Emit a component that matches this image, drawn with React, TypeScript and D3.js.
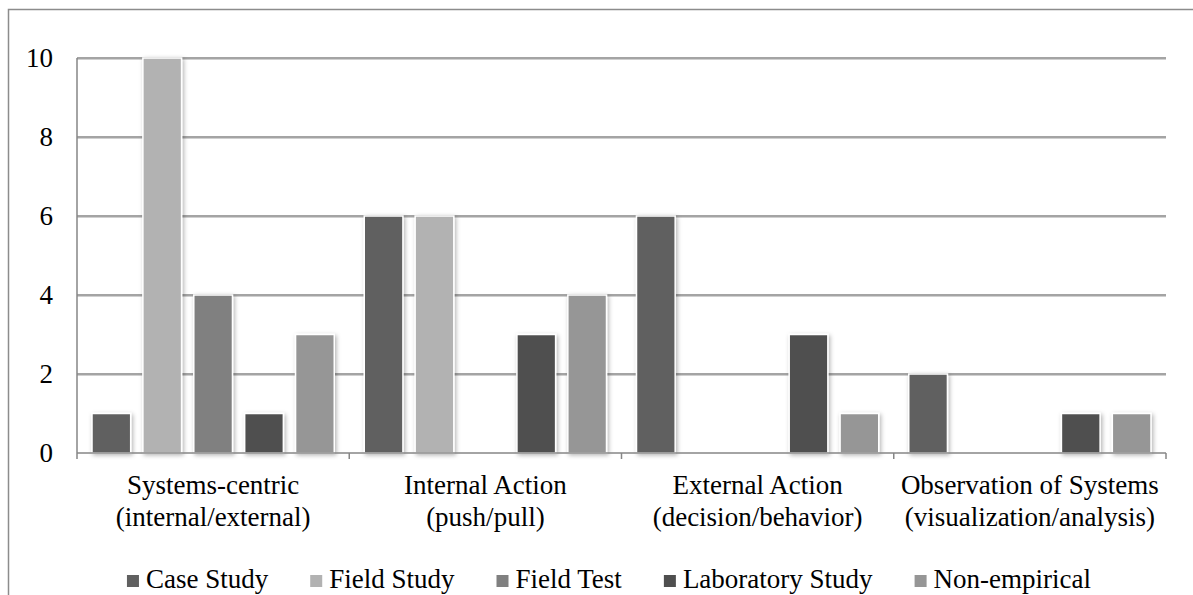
import React, { useEffect, useRef } from 'react';
import * as d3 from 'd3';

const categories = [
  ['Systems-centric', '(internal/external)'],
  ['Internal Action', '(push/pull)'],
  ['External Action', '(decision/behavior)'],
  ['Observation of Systems', '(visualization/analysis)'],
];
const seriesNames = ['Case Study', 'Field Study', 'Field Test', 'Laboratory Study', 'Non-empirical'];
const seriesColors = ['#606060', '#b2b2b2', '#808080', '#4f4f4f', '#969696'];
// one array per series, one value per category
const caseStudy = [1, 6, 6, 2];
const fieldStudy = [10, 6, 0, 0];
const fieldTest = [4, 0, 0, 0];
const laboratoryStudy = [1, 3, 3, 1];
const nonEmpirical = [3, 4, 1, 1];
const yTicks = [0, 2, 4, 6, 8, 10];

const W = 1193;
const H = 595;

const App: React.FC = () => {
  const ref = useRef<SVGSVGElement>(null);

  useEffect(() => {
    if (!ref.current) return;
    document.body.style.margin = '0';
    const values = [caseStudy, fieldStudy, fieldTest, laboratoryStudy, nonEmpirical];
    const svg = d3.select(ref.current);
    svg.selectAll('*').remove();

    const margin = { left: 77, right: W - 1166, top: 58, bottom: H - 453 };
    const font = "'Liberation Serif', 'Times New Roman', serif";

    const defs = svg.append('defs');
    const f = defs.append('filter').attr('id', 'shadow')
      .attr('x', '-20%').attr('y', '-10%').attr('width', '150%').attr('height', '130%');
    f.append('feDropShadow').attr('dx', 1.5).attr('dy', 1.5)
      .attr('stdDeviation', 2).attr('flood-color', '#000').attr('flood-opacity', 0.3);

    // outer chart border (runs past the picture)
    svg.append('rect').attr('x', 8.5).attr('y', 9.5).attr('width', W + 20).attr('height', H + 20)
      .attr('fill', '#fff').attr('stroke', '#8c8c8c').attr('stroke-width', 1.5);

    const x0 = d3.scaleBand<number>()
      .domain(d3.range(categories.length))
      .range([margin.left, W - margin.right]);
    const x1 = d3.scaleBand<number>()
      .domain(d3.range(seriesNames.length))
      .range([15, x0.bandwidth() - 15])
      .paddingInner(0.24);
    const y = d3.scaleLinear().domain([0, 10]).range([H - margin.bottom, margin.top]);

    // gridlines
    const grid = svg.append('g');
    grid.selectAll('line.g')
      .data(yTicks.filter(t => t > 0))
      .enter().append('line')
      .attr('x1', margin.left).attr('x2', W - margin.right)
      .attr('y1', d => y(d)).attr('y2', d => y(d))
      .attr('stroke', '#868686').attr('stroke-width', 1.5);
    grid.selectAll('line.s')
      .data(yTicks.filter(t => t > 0))
      .enter().append('line')
      .attr('x1', margin.left).attr('x2', W - margin.right)
      .attr('y1', d => y(d) + 1.5).attr('y2', d => y(d) + 1.5)
      .attr('stroke', '#d0d0d0').attr('stroke-width', 1);

    // bars
    const groups = svg.append('g').selectAll('g')
      .data(categories.map((_, i) => i))
      .enter().append('g')
      .attr('transform', i => `translate(${x0(i)},0)`);
    groups.selectAll('rect')
      .data(ci => values.map((s, si) => ({ si, v: s[ci] })).filter(d => d.v > 0))
      .enter().append('rect')
      .attr('x', d => x1(d.si)!)
      .attr('y', d => y(d.v))
      .attr('width', x1.bandwidth())
      .attr('height', d => y(0) - y(d.v))
      .attr('fill', d => seriesColors[d.si])
      .attr('stroke', '#fff').attr('stroke-width', 1.5)
      .attr('filter', 'url(#shadow)');

    // axis lines + category ticks
    svg.append('line')
      .attr('x1', margin.left).attr('x2', margin.left)
      .attr('y1', y(10)).attr('y2', y(0))
      .attr('stroke', '#868686').attr('stroke-width', 1.5);
    svg.append('line')
      .attr('x1', margin.left).attr('x2', W - margin.right)
      .attr('y1', y(0)).attr('y2', y(0))
      .attr('stroke', '#868686').attr('stroke-width', 1.5);
    svg.selectAll('line.tick')
      .data(d3.range(categories.length + 1))
      .enter().append('line')
      .attr('x1', i => margin.left + i * x0.step()).attr('x2', i => margin.left + i * x0.step())
      .attr('y1', y(0)).attr('y2', y(0) + 6)
      .attr('stroke', '#868686').attr('stroke-width', 1.5);

    const txt = svg.append('g').style('font-family', font).style('font-size', '27px');

    // y tick labels
    txt.append('g').selectAll('text')
      .data(yTicks)
      .enter().append('text')
      .attr('x', margin.left - 24)
      .attr('y', d => y(d))
      .attr('dy', '0.35em')
      .attr('text-anchor', 'end')
      .text(d => d);

    // category labels
    const cl = txt.append('g').selectAll('text')
      .data(categories)
      .enter().append('text')
      .attr('text-anchor', 'middle')
      .attr('x', (_, i) => x0(i)! + x0.bandwidth() / 2)
      .attr('y', 494);
    cl.selectAll('tspan')
      .data(d => d)
      .enter().append('tspan')
      .attr('x', function () { return (this.parentNode as SVGTextElement).getAttribute('x'); })
      .attr('dy', (_, i) => (i === 0 ? 0 : 32))
      .text(d => d);

    // legend, centred as a row
    const lg = txt.append('g');
    const items = seriesNames.map((name, i) => {
      const it = lg.append('g');
      it.append('rect').attr('x', 0).attr('y', 575).attr('width', 12).attr('height', 12)
        .attr('fill', seriesColors[i]);
      const t = it.append('text').attr('x', 19).attr('y', 588).text(name);
      return { it, w: 19 + (t.node() as SVGTextElement).getComputedTextLength() };
    });
    const gap = 42;
    const total = d3.sum(items, d => d.w) + gap * (items.length - 1);
    let cx = 609 - total / 2;
    items.forEach(d => {
      d.it.attr('transform', `translate(${cx},0)`);
      cx += d.w + gap;
    });
  }, []);

  return <svg ref={ref} width={W} height={H} style={{ display: 'block' }} />;
};

export default App;
